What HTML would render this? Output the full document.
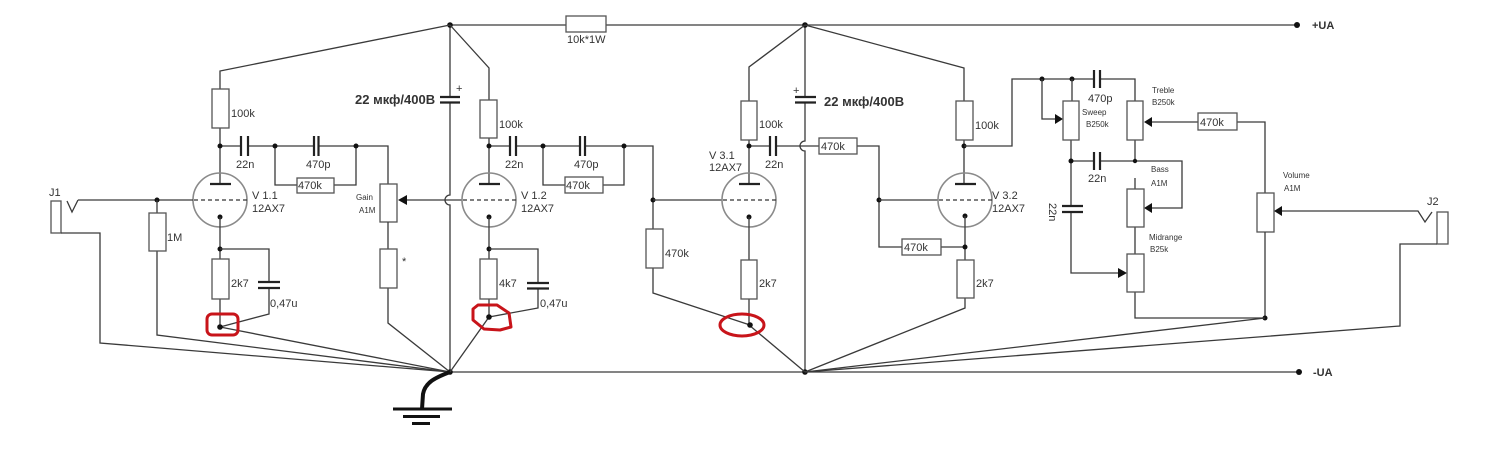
<!DOCTYPE html>
<html><head><meta charset="utf-8">
<style>
html,body{margin:0;padding:0;background:#fff;}
svg{display:block;}
text{font-family:"Liberation Sans",Arial,sans-serif;fill:#333;}
.w{stroke:#3a3a3a;stroke-width:1.3;fill:none;}
.r{stroke:#555;stroke-width:1.3;fill:#fff;}
.t{stroke:#8a8a8a;stroke-width:1.6;fill:none;}
.p{stroke:#222;stroke-width:2.2;fill:none;}
.red{stroke:#c8141a;stroke-width:3;fill:none;stroke-linejoin:round;}
.l{font-size:11px;}
.s{font-size:8px;}
.b{font-size:13px;font-weight:bold;}
</style></head><body>
<svg width="1500" height="449" viewBox="0 0 1500 449" xmlns="http://www.w3.org/2000/svg">
<rect width="1500" height="449" fill="#fff"/>

<!-- +UA rail -->
<path class="w" d="M450,25 H566 M606,25 H1297"/>
<rect class="r" x="566" y="16" width="40" height="16"/>
<text class="l" x="567" y="43">10k*1W</text>
<circle cx="1297" cy="25" r="3" fill="#111"/>
<text class="l" x="1312" y="29" style="font-weight:bold;font-size:11px">+UA</text>

<!-- -UA rail -->
<path class="w" d="M450,372 H1299"/>
<circle cx="1299" cy="372" r="3" fill="#111"/>
<text class="l" x="1313" y="376" style="font-weight:bold;font-size:11px">-UA</text>

<!-- vertical rail x=450 with cap and jump -->
<path class="w" d="M450,25 V97 M450,102 V195 A5,5 0 0 0 450,205 V372"/>
<path class="p" d="M440,97 H460 M440,102.5 H460"/>
<text class="l" x="456" y="92">+</text>
<text class="b" x="355" y="104">22 мкф/400В</text>

<!-- vertical rail x=805 with cap and jump -->
<path class="w" d="M805,25 V97 M805,102 V141 A5,5 0 0 0 805,151 V372"/>
<path class="p" d="M795,97 H816 M795,102.5 H816"/>
<text class="l" x="793" y="94">+</text>
<text class="b" x="824" y="106">22 мкф/400В</text>

<!-- nodes on rails -->
<circle cx="450" cy="25" r="2.8" fill="#111"/>
<circle cx="805" cy="25" r="2.8" fill="#111"/>
<circle cx="450" cy="372" r="2.8" fill="#111"/>
<circle cx="805" cy="372" r="2.8" fill="#111"/>

<!-- ===== V1.1 stage ===== -->
<path class="w" d="M450,25 L220,71 V89 M220,128 V184"/>
<rect class="r" x="212" y="89" width="17" height="39"/>
<text class="l" x="231" y="117">100k</text>
<path class="w" d="M220,146 H241 M248,146 H314 M318,146 H388 V184"/>
<path class="p" d="M241,136 V156 M248,136 V156 M314,136 V156 M318.5,136 V156"/>
<text class="l" x="236" y="168">22n</text>
<text class="l" x="306" y="168">470p</text>
<path class="w" d="M275,146 V185 H297 M334,185 H356 V146"/>
<rect class="r" x="297" y="178" width="37" height="15"/>
<text class="l" x="298" y="189">470k</text>
<circle cx="220" cy="146" r="2.5" fill="#111"/>
<circle cx="275" cy="146" r="2.5" fill="#111"/>
<circle cx="356" cy="146" r="2.5" fill="#111"/>
<!-- tube V1.1 -->
<circle class="t" cx="220" cy="200" r="27"/>
<path d="M210,184 H231" stroke="#222" stroke-width="2.2"/>
<path d="M194,200 H247" stroke="#333" stroke-width="1.2" stroke-dasharray="4,3"/>
<circle cx="220" cy="217" r="2.5" fill="#111"/>
<text class="l" x="252" y="199">V 1.1</text>
<text class="l" x="252" y="212">12AX7</text>
<!-- J1 & grid -->
<rect class="r" x="51" y="201" width="10" height="32"/>
<text class="l" x="49" y="196">J1</text>
<path class="w" d="M67,201 L72,212 L78,200 M78,200 H193"/>
<path class="w" d="M61,233 H100 V343 L450,372"/>
<circle cx="157" cy="200" r="2.5" fill="#111"/>
<path class="w" d="M157,200 V213 M157,251 V335 L450,372"/>
<rect class="r" x="149" y="213" width="17" height="38"/>
<text class="l" x="167" y="241">1M</text>
<!-- cathode -->
<path class="w" d="M220,217 V259 M220,299 V327 L450,372"/>
<rect class="r" x="212" y="259" width="17" height="40"/>
<text class="l" x="231" y="287">2k7</text>
<circle cx="220" cy="249" r="2.5" fill="#111"/>
<path class="w" d="M220,249 H269 V282 M269,288 V314 L220,327"/>
<path class="p" d="M258,282 H280 M258,288 H280"/>
<text class="l" x="270" y="307">0,47u</text>
<circle cx="220" cy="327" r="2.8" fill="#111"/>
<rect class="red" x="207" y="314" width="31" height="21" rx="5"/>
<!-- Gain pot -->
<rect class="r" x="380" y="184" width="17" height="38"/>
<path d="M398,200 L407,195 L407,205 Z" fill="#111"/>
<path class="w" d="M407,200 H462"/>
<text class="s" x="356" y="200">Gain</text>
<text class="s" x="359" y="213">A1M</text>
<path class="w" d="M388,222 V249 M388,288 V323 L450,372"/>
<rect class="r" x="380" y="249" width="17" height="39"/>
<text class="l" x="402" y="265">*</text>

<!-- ===== V1.2 stage ===== -->
<path class="w" d="M450,25 L489,68 V100 M489,138 V184"/>
<rect class="r" x="480" y="100" width="17" height="38"/>
<text class="l" x="499" y="128">100k</text>
<path class="w" d="M489,146 H510 M516,146 H580 M585,146 H653 V229"/>
<path class="p" d="M510,136 V156 M516,136 V156 M580,136 V156 M585,136 V156"/>
<text class="l" x="505" y="168">22n</text>
<text class="l" x="574" y="168">470p</text>
<path class="w" d="M543,146 V185 H565 M603,185 H624 V146"/>
<rect class="r" x="565" y="177" width="38" height="16"/>
<text class="l" x="566" y="189">470k</text>
<circle cx="489" cy="146" r="2.5" fill="#111"/>
<circle cx="543" cy="146" r="2.5" fill="#111"/>
<circle cx="624" cy="146" r="2.5" fill="#111"/>
<circle class="t" cx="489" cy="200" r="27"/>
<path d="M479,184 H500" stroke="#222" stroke-width="2.2"/>
<path d="M463,200 H516" stroke="#333" stroke-width="1.2" stroke-dasharray="4,3"/>
<circle cx="489" cy="217" r="2.5" fill="#111"/>
<text class="l" x="521" y="199">V 1.2</text>
<text class="l" x="521" y="212">12AX7</text>
<path class="w" d="M489,217 V259 M489,299 V317 L450,372"/>
<rect class="r" x="480" y="259" width="17" height="40"/>
<text class="l" x="499" y="287">4k7</text>
<circle cx="489" cy="249" r="2.5" fill="#111"/>
<path class="w" d="M489,249 H538 V283 M538,288 V308 L489,317"/>
<path class="p" d="M527,283 H549 M527,288.5 H549"/>
<text class="l" x="540" y="307">0,47u</text>
<circle cx="489" cy="317" r="2.8" fill="#111"/>
<path class="red" d="M478,305 L497,305 L509,313 L511,327 L500,330 L484,329 L473,320 L473,309 Z"/>
<!-- grid V3.1 and 470k leak -->
<circle cx="653" cy="200" r="2.5" fill="#111"/>
<path class="w" d="M653,200 H722 M653,268 V293 L750,325"/>
<rect class="r" x="646" y="229" width="17" height="39"/>
<text class="l" x="665" y="257">470k</text>

<!-- ===== V3.1 stage ===== -->
<path class="w" d="M805,25 L749,67 V101 M749,140 V184"/>
<rect class="r" x="741" y="101" width="16" height="39"/>
<text class="l" x="759" y="128">100k</text>
<path class="w" d="M749,146 H770 M776,146 H819 M857,146 H879 V247 H902 M941,247 H965"/>
<path class="p" d="M770,136 V156 M776,136 V156"/>
<text class="l" x="765" y="168">22n</text>
<rect class="r" x="819" y="138" width="38" height="16"/>
<text class="l" x="821" y="150">470k</text>
<circle cx="749" cy="146" r="2.5" fill="#111"/>
<circle class="t" cx="749" cy="200" r="27"/>
<path d="M739,184 H760" stroke="#222" stroke-width="2.2"/>
<path d="M723,200 H776" stroke="#333" stroke-width="1.2" stroke-dasharray="4,3"/>
<circle cx="749" cy="217" r="2.5" fill="#111"/>
<text class="l" x="709" y="159">V 3.1</text>
<text class="l" x="709" y="171">12AX7</text>
<path class="w" d="M749,217 V260 M749,299 V325 L805,372"/>
<rect class="r" x="741" y="260" width="16" height="39"/>
<text class="l" x="759" y="287">2k7</text>
<circle cx="750" cy="325" r="2.8" fill="#111"/>
<ellipse class="red" cx="742" cy="325" rx="22" ry="11"/>

<!-- ===== V3.2 stage ===== -->
<circle cx="879" cy="200" r="2.5" fill="#111"/>
<path class="w" d="M879,200 H938"/>
<rect class="r" x="902" y="239" width="39" height="16"/>
<text class="l" x="904" y="251">470k</text>
<path class="w" d="M805,25 L964,68 V101 M964,140 V184"/>
<rect class="r" x="956" y="101" width="17" height="39"/>
<text class="l" x="975" y="129">100k</text>
<circle cx="964" cy="146" r="2.5" fill="#111"/>
<circle class="t" cx="965" cy="200" r="27"/>
<path d="M955,184 H976" stroke="#222" stroke-width="2.2"/>
<path d="M939,200 H992" stroke="#333" stroke-width="1.2" stroke-dasharray="4,3"/>
<circle cx="965" cy="216" r="2.5" fill="#111"/>
<text class="l" x="992" y="199">V 3.2</text>
<text class="l" x="992" y="212">12AX7</text>
<path class="w" d="M965,216 V260 M965,298 V308 L805,372"/>
<rect class="r" x="957" y="260" width="17" height="38"/>
<text class="l" x="976" y="287">2k7</text>
<circle cx="965" cy="247" r="2.5" fill="#111"/>

<!-- ===== Tone stack ===== -->
<path class="w" d="M964,146 H1012 V79 H1094 M1100,79 H1135 V101 M1135,140 V161"/>
<path class="p" d="M1094,70 V88 M1100,70 V88"/>
<text class="l" x="1088" y="102">470p</text>
<circle cx="1042" cy="79" r="2.5" fill="#111"/>
<circle cx="1072" cy="79" r="2.5" fill="#111"/>
<!-- sweep -->
<path class="w" d="M1042,79 V119 H1055 M1072,79 V101 M1071,140 V206 M1071,212 V273 H1118"/>
<path d="M1063,119 L1055,114 L1055,124 Z" fill="#111"/>
<rect class="r" x="1063" y="101" width="16" height="39"/>
<text class="s" x="1082" y="115">Sweep</text>
<text class="s" x="1086" y="127">B250k</text>
<!-- treble -->
<rect class="r" x="1127" y="101" width="16" height="39"/>
<text class="s" x="1152" y="93">Treble</text>
<text class="s" x="1152" y="105">B250k</text>
<path d="M1144,122 L1152,117 L1152,127 Z" fill="#111"/>
<path class="w" d="M1152,122 H1198 M1237,122 H1265 V193"/>
<rect class="r" x="1198" y="113" width="39" height="17"/>
<text class="l" x="1200" y="126">470k</text>
<!-- 22n horizontal -->
<path class="w" d="M1071,161 H1094 M1100,161 H1182 V208 H1152"/>
<path class="p" d="M1094,152 V170 M1100,152 V170"/>
<text class="l" x="1088" y="182">22n</text>
<circle cx="1071" cy="161" r="2.5" fill="#111"/>
<circle cx="1135" cy="161" r="2.2" fill="#111"/>
<!-- bass -->
<path d="M1144,208 L1152,203 L1152,213 Z" fill="#111"/>
<path class="w" d="M1135,178 V189 M1135,227 V254 M1135,292 V318 H1265"/>
<rect class="r" x="1127" y="189" width="17" height="38"/>
<text class="s" x="1151" y="172">Bass</text>
<text class="s" x="1151" y="186">A1M</text>
<!-- 22n vertical -->
<path class="p" d="M1062,206 H1083 M1062,212 H1083"/>
<text class="l" transform="translate(1049,203) rotate(90)" x="0" y="0">22n</text>
<!-- midrange -->
<path d="M1127,273 L1118,268 L1118,278 Z" fill="#111"/>
<rect class="r" x="1127" y="254" width="17" height="38"/>
<text class="s" x="1149" y="240">Midrange</text>
<text class="s" x="1150" y="252">B25k</text>
<!-- volume -->
<rect class="r" x="1257" y="193" width="17" height="39"/>
<path class="w" d="M1265,232 V318"/>
<circle cx="1265" cy="318" r="2.5" fill="#111"/>
<path d="M1274,211 L1282,206 L1282,216 Z" fill="#111"/>
<text class="s" x="1283" y="178">Volume</text>
<text class="s" x="1284" y="191">A1M</text>
<path class="w" d="M1282,211 H1418 L1425,222 L1432,212"/>
<rect class="r" x="1437" y="212" width="11" height="32"/>
<text class="l" x="1427" y="205">J2</text>
<path class="w" d="M1437,244 H1400 V326 L805,372"/>
<path class="w" d="M1265,318 L805,372"/>

<!-- Ground -->
<path d="M450,372 C434,378 425,383 423,394 L422,409" stroke="#111" stroke-width="4" fill="none"/>
<path d="M393,409 H452 M403,416.5 H440 M412,423.5 H430" stroke="#111" stroke-width="3" fill="none"/>
</svg>
</body></html>
